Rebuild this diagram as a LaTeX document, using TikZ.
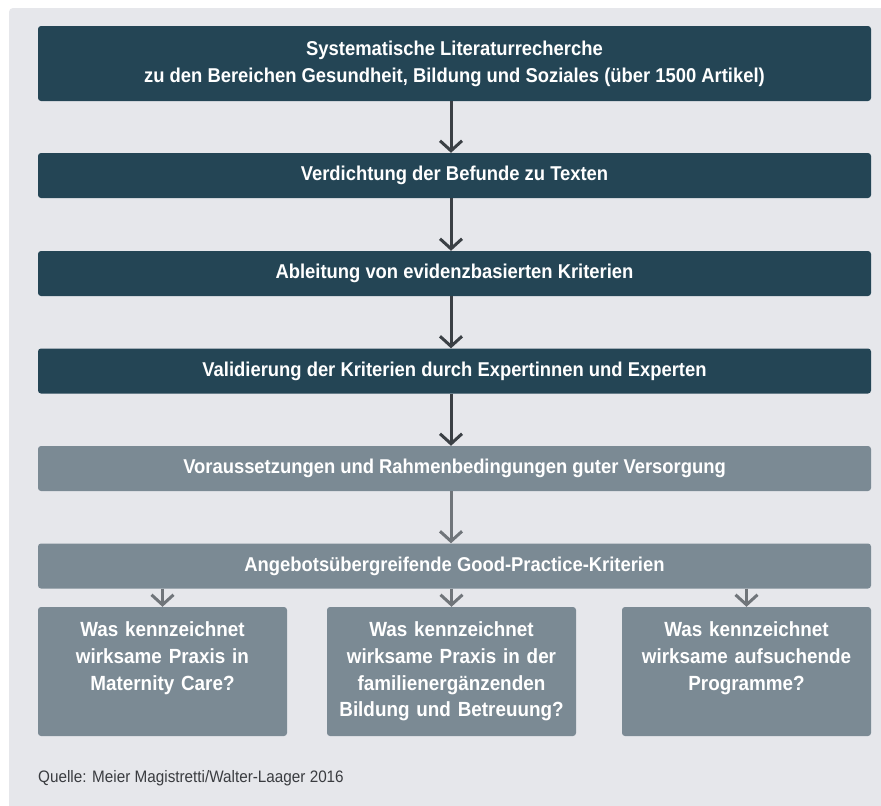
\documentclass[tikz,border=0pt]{standalone}
\usepackage{fontspec}
\setmainfont{Liberation Sans}[FakeStretch=0.92]
\usetikzlibrary{arrows.meta}

\definecolor{boxdark}{RGB}{36,69,85}
\definecolor{boxgray}{RGB}{123,138,148}
\definecolor{panelbg}{RGB}{230,231,235}
\definecolor{arrdark}{RGB}{59,64,69}
\definecolor{arrgray}{RGB}{112,117,122}
\definecolor{srctext}{RGB}{58,60,64}

\newcommand*{\boxw}{833}
\newcommand*{\subw}{249}
\newcommand*{\midx}{454.5}

\begin{document}
\begin{tikzpicture}
[
	x=1pt,
	y=-1pt,
	stagebox/.style={rounded corners=3pt,text=white,inner sep=0pt,align=center,
		minimum width=\boxw pt,minimum height=45pt,
		font=\fontsize{20}{27}\selectfont\bfseries},
	darkbox/.style={stagebox,fill=boxdark},
	graybox/.style={stagebox,fill=boxgray},
	subbox/.style={rounded corners=3pt,fill=boxgray,inner sep=0pt,
		minimum width=\subw pt,minimum height=129pt},
	subtext/.style={text=white,align=center,inner sep=0pt,text width=245pt,
		font=\fontsize{20.5}{26.7}\selectfont\bfseries},
	darr/.style={line width=3pt,draw=arrdark,-{Straight Barb[length=10pt,width=22pt]}},
	garr/.style={darr,draw=arrgray}
]

	\useasboundingbox (0,0) rectangle (881,806);
	% background
	\fill[white] (0,0) rectangle (881,806);
	\fill[panelbg,rounded corners=4pt] (9,8) rectangle (885,810);
	\coordinate (ax) at (451,0);

	% process steps
	\node[darkbox,minimum height=75pt] (lit) at (\midx,63.5)
		{Systematische Literaturrecherche\\zu den Bereichen Gesundheit, Bildung und Soziales (über 1500 Artikel)};
	\node[darkbox] (verd) at (\midx,175.5) {Verdichtung der Befunde zu Texten};
	\node[darkbox] (abl) at (\midx,273.5) {Ableitung von evidenzbasierten Kriterien};
	\node[darkbox] (valid) at (\midx,371) {Validierung der Kriterien durch Expertinnen und Experten};
	\node[graybox] (vorauss) at (\midx,468.5) {Voraussetzungen und Rahmenbedingungen guter Versorgung};
	\node[graybox] (gpk) at (\midx,566) {Angebotsübergreifende Good-Practice-Kriterien};

	% fields
	\node[subbox] (care) at (162.5,671.5) {};
	\node[subbox] (fbbe) at (451.5,671.5) {};
	\node[subbox] (aufs) at (746.5,671.5) {};
	\node[subtext,anchor=north] (caretxt) at ([yshift=-15pt]care.north)
		{Was kennzeichnet\\wirksame Praxis in\\Maternity Care?};
	\node[subtext,anchor=north] (fbbetxt) at ([yshift=-15pt]fbbe.north)
		{Was kennzeichnet\\wirksame Praxis in der\\familienergänzenden\\Bildung und Betreuung?};
	\node[subtext,anchor=north] (aufstxt) at ([yshift=-15pt]aufs.north)
		{Was kennzeichnet\\wirksame aufsuchende\\Programme?};

	% arrows
	\draw[darr] (lit.south -| ax) -- (verd.north -| ax);
	\draw[darr] (verd.south -| ax) -- (abl.north -| ax);
	\draw[darr] (abl.south -| ax) -- (valid.north -| ax);
	\draw[darr] (valid.south -| ax) -- (vorauss.north -| ax);
	\draw[garr] (vorauss.south -| ax) -- (gpk.north -| ax);
	\draw[garr] (gpk.south -| care) -- (care.north);
	\draw[garr] (gpk.south -| fbbe) -- (fbbe.north);
	\draw[garr] (gpk.south -| aufs) -- (aufs.north);

	% source
	\node[anchor=base west,inner sep=0pt,text=srctext,font=\fontsize{16.6}{19}\selectfont] (src) at (38,782)
		{Quelle: Meier Magistretti/Walter-Laager 2016};

\end{tikzpicture}
\end{document}
